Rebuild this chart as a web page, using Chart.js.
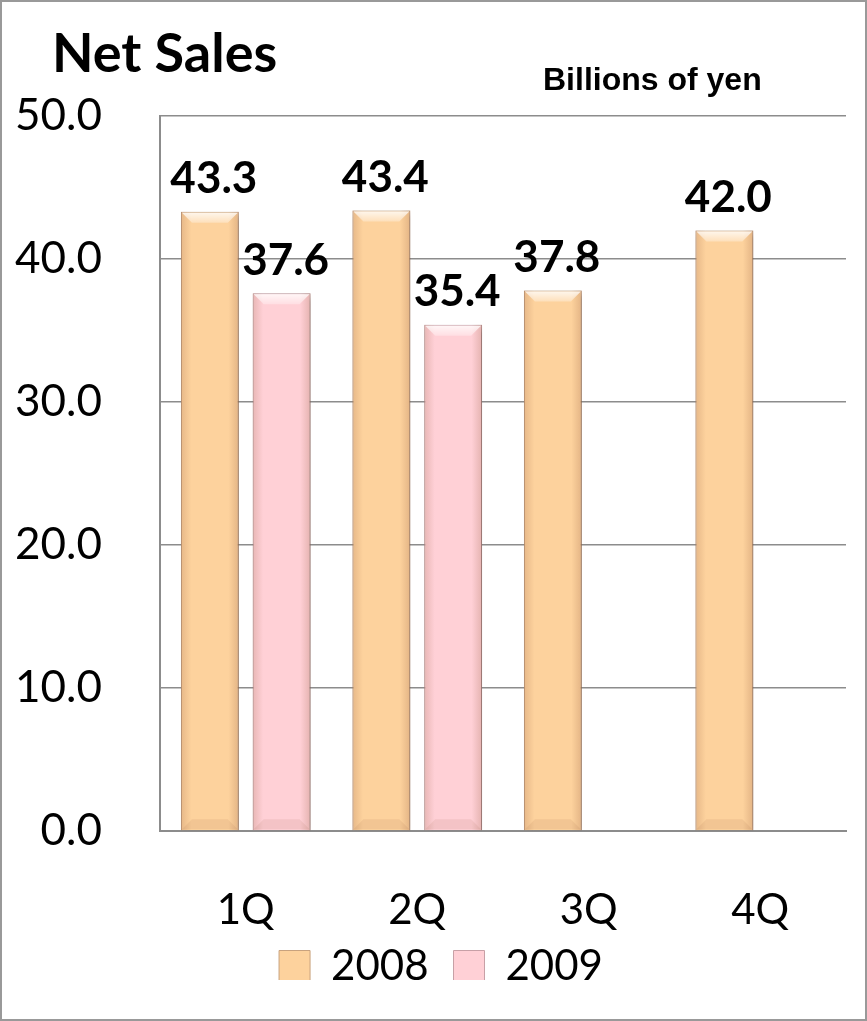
<!DOCTYPE html>
<html>
<head>
<meta charset="utf-8">
<script src="https://cdn.jsdelivr.net/npm/chart.js@4"></script>
<style>
  html, body { margin: 0; padding: 0; background: #fff; }
  canvas { display: block; }
</style>
</head>
<body>
<canvas id="salesChart" width="867" height="1021"></canvas>
<script>
const quarters = ['1Q', '2Q', '3Q', '4Q'];
const sales2008 = [43.3, 43.4, 37.8, 42.0];
const sales2009 = [37.6, 35.4, null, null];
const yTicks = [0, 10, 20, 30, 40, 50];

// frame, title and unit note
const framePlugin = {
    id: 'frame',
    beforeDraw(chart) {
        const c = chart.ctx;
        c.save();
        c.fillStyle = '#fff';
        c.fillRect(0, 0, chart.width, chart.height);
        c.strokeStyle = '#999';
        c.lineWidth = 2;
        c.strokeRect(1, 1, chart.width - 2, chart.height - 2);
        c.fillStyle = '#000';
        c.textBaseline = 'alphabetic';
        c.font = 'bold 54px Lato';
        c.fillText('Net Sales', 52, 72);
        c.font = 'bold 32px "Liberation Sans"';
        c.fillText('Billions of yen', 543, 90);
        c.restore();
    },
    // nudge the legend box to where the original sits
    afterLayout(chart) {
        const lg = chart.legend;
        if (!lg) return;
        const h = lg.height;
        lg.left += 18;
        lg.right += 18;
        lg.top = 920;
        lg.bottom = 920 + h;
    }
};

// soft shadow + bevel look on the bars
const bevelPlugin = {
    id: 'bevel',
    beforeDatasetsDraw(chart) {
        const c = chart.ctx;
        c.save();
        c.shadowColor = 'rgba(0,0,0,0.35)';
        c.shadowBlur = 7;
        c.shadowOffsetX = 3;
        c.shadowOffsetY = 3;
    },
    afterDatasetsDraw(chart) {
        const c = chart.ctx;
        c.restore();
        chart.data.datasets.forEach((ds, i) => {
            chart.getDatasetMeta(i).data.forEach((bar, j) => {
                if (ds.data[j] == null) return;
                const w = bar.width, l = bar.x - w / 2, r = bar.x + w / 2;
                const t = bar.y, b = bar.base, e = 11;
                c.save();
                const g = c.createLinearGradient(l, 0, r, 0);
                g.addColorStop(0, 'rgba(150,90,60,0.22)');
                g.addColorStop(0.18, 'rgba(150,90,60,0)');
                g.addColorStop(0.82, 'rgba(150,90,60,0)');
                g.addColorStop(1, 'rgba(150,90,60,0.25)');
                c.fillStyle = g;
                c.fillRect(l, t, w, b - t);
                const tg = c.createLinearGradient(0, t, 0, t + e);
                tg.addColorStop(0, 'rgba(255,255,255,0.85)');
                tg.addColorStop(1, 'rgba(255,255,255,0.3)');
                c.fillStyle = tg;
                c.beginPath();
                c.moveTo(l + 1, t + 1);
                c.lineTo(r - 1, t + 1);
                c.lineTo(r - e, t + e);
                c.lineTo(l + e, t + e);
                c.closePath();
                c.fill();
                c.fillStyle = 'rgba(150,90,60,0.1)';
                c.beginPath();
                c.moveTo(l + 1, b - 1);
                c.lineTo(r - 1, b - 1);
                c.lineTo(r - e, b - e);
                c.lineTo(l + e, b - e);
                c.closePath();
                c.fill();
                c.restore();
            });
        });
    }
};

// bold value labels above each bar
const valueLabels = {
    id: 'valueLabels',
    afterDatasetsDraw(chart) {
        const c = chart.ctx;
        c.save();
        c.font = 'bold 44px Lato';
        c.fillStyle = '#000';
        c.textAlign = 'center';
        c.textBaseline = 'bottom';
        chart.data.datasets.forEach((ds, i) => {
            chart.getDatasetMeta(i).data.forEach((bar, j) => {
                const v = ds.data[j];
                if (v == null) return;
                c.fillText(v.toFixed(1), bar.x + 4, bar.y - 11);
            });
        });
        c.restore();
    }
};

new Chart(document.getElementById('salesChart'), {
    type: 'bar',
    data: {
        labels: quarters,
        datasets: [{
            label: '2008',
            data: sales2008,
            backgroundColor: '#FDD29D',
            borderColor: '#C8A27E',
            borderWidth: 1
        }, {
            label: '2009',
            data: sales2009,
            backgroundColor: '#FFD0D6',
            borderColor: '#C7A0A6',
            borderWidth: 1
        }]
    },
    options: {
        responsive: false,
        animation: false,
        layout: { padding: { top: 116, right: 21, left: 0, bottom: 20 } },
        categoryPercentage: 0.837,
        barPercentage: 0.806,
        scales: {
            y: {
                min: yTicks[0],
                max: yTicks[yTicks.length - 1],
                afterFit: s => { s.width = 160; },
                afterBuildTicks: s => { s.ticks = yTicks.map(v => ({ value: v })); },
                grid: { color: '#8c8c8c', lineWidth: 1.5, drawTicks: false },
                border: { display: true, color: '#8c8c8c', width: 2 },
                ticks: {
                    padding: 58,
                    color: '#000',
                    font: { family: 'Lato', size: 44 },
                    callback: v => v.toFixed(1)
                }
            },
            x: {
                grid: { display: false, drawTicks: false },
                border: { display: true, color: '#8c8c8c', width: 2 },
                afterFit: s => { s.height = 110; },
                ticks: {
                    padding: 54,
                    color: '#000',
                    font: { family: 'Lato', size: 42 }
                }
            }
        },
        plugins: {
            legend: {
                position: 'bottom',
                maxHeight: 60,
                labels: {
                    color: '#000',
                    font: { family: 'Lato', size: 42 },
                    boxWidth: 31,
                    boxHeight: 31,
                    padding: 25
                }
            },
            tooltip: { enabled: false }
        }
    },
    plugins: [framePlugin, bevelPlugin, valueLabels]
});
</script>
</body>
</html>
